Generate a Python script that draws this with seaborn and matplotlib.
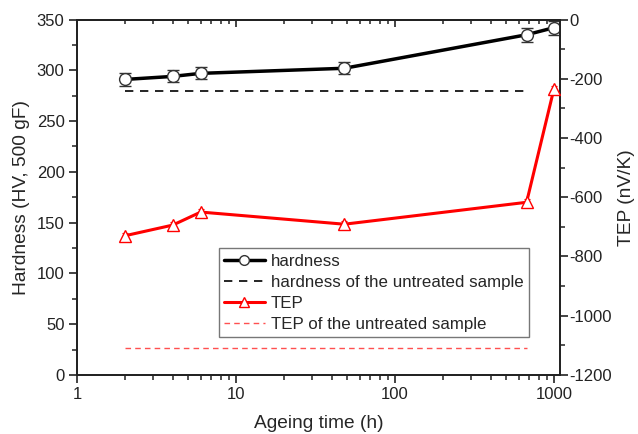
import matplotlib
matplotlib.use("Agg")
import matplotlib.pyplot as plt
import seaborn as sns
import numpy as np
import pandas as pd
from matplotlib.lines import Line2D
from matplotlib.ticker import MultipleLocator, LogLocator, NullFormatter

# ageing time (h)
ageing_time = [2, 4, 6, 48, 672, 1000]
# hardness (HV, 500 gF) and its error
hardness = [291, 294, 297, 302, 335, 342]
hardness_err = [6, 6, 6, 6, 7, 7]
# thermoelectric power (nV/K)
tep = [-730, -694, -650, -691, -617, -233]
tep_err = [10, 10, 10, 10, 10, 10]
# untreated sample reference values
hardness_untreated = 280
tep_untreated = -1110
ref_span = [2, 672]

sns.set_theme(style="white")
plt.rcParams['font.family'] = ['Liberation Sans', 'DejaVu Sans']
plt.rcParams['axes.unicode_minus'] = False

df = pd.DataFrame({"time": ageing_time, "hardness": hardness, "tep": tep})
ref = pd.DataFrame({"time": ref_span,
                    "h": [hardness_untreated] * 2,
                    "t": [tep_untreated] * 2})

fig = plt.figure(figsize=(6.38, 4.34), dpi=100)
ax = fig.add_axes([0.1207, 0.136, 0.757, 0.819])
ax2 = ax.twinx()

# hardness
ax.errorbar(ageing_time, hardness, yerr=hardness_err, fmt='none', ecolor='#333333',
            elinewidth=1, capsize=4, capthick=1, zorder=3)
sns.lineplot(data=df, x="time", y="hardness", ax=ax, color='black', lw=2.5,
             marker='o', markersize=8.5, markerfacecolor='white', markeredgecolor='#333333',
             markeredgewidth=1, zorder=4)
sns.lineplot(data=ref, x="time", y="h", ax=ax, color='black', lw=1.2,
             linestyle=(0, (5, 4)))

# TEP
ax2.errorbar(ageing_time, tep, yerr=tep_err, fmt='none', ecolor='red',
             elinewidth=0.8, capsize=2, capthick=0.8, zorder=3)
sns.lineplot(data=df, x="time", y="tep", ax=ax2, color='red', lw=2.2,
             marker='^', markersize=8, markerfacecolor='white', markeredgecolor='red',
             markeredgewidth=1, zorder=4)
sns.lineplot(data=ref, x="time", y="t", ax=ax2, color='#ff5050', lw=1.0,
             linestyle=(0, (4, 3)))

ax.set_xscale('log')
ax.set_xlim(1, 1090)
ax.set_ylim(0, 350)
ax2.set_ylim(-1200, 0)

ax.yaxis.set_major_locator(MultipleLocator(50))
ax.yaxis.set_minor_locator(MultipleLocator(25))
ax2.yaxis.set_major_locator(MultipleLocator(200))
ax2.yaxis.set_minor_locator(MultipleLocator(100))
ax.xaxis.set_minor_locator(LogLocator(base=10, subs=np.arange(2, 10), numticks=20))
ax.xaxis.set_minor_formatter(NullFormatter())
ax.set_xticks([1, 10, 100, 1000])
ax.set_xticklabels(['1', '10', '100', '1000'])

for a in (ax, ax2):
    for s in a.spines.values():
        s.set_color('#222222')
        s.set_linewidth(1.3)

ax.tick_params(axis='both', which='major', direction='out', length=6, width=1.2,
               labelsize=12, colors='#222222', bottom=True, left=True, top=False, pad=3)
ax.tick_params(axis='both', which='minor', direction='out', length=3.5, width=1.1,
               bottom=True, left=True, top=False, colors='#222222')
ax2.tick_params(axis='y', which='major', direction='out', length=6, width=1.2,
                labelsize=12, colors='#222222', right=True, pad=1)
ax2.tick_params(axis='y', which='minor', direction='out', length=3.5, width=1.1,
                right=True, colors='#222222')

# mirrored top axis with inward ticks
top = ax.secondary_xaxis('top')
top.set_xticks([1, 10, 100, 1000])
top.xaxis.set_minor_locator(LogLocator(base=10, subs=np.arange(2, 10), numticks=20))
top.xaxis.set_minor_formatter(NullFormatter())
top.tick_params(axis='x', which='major', direction='in', length=5, width=1.2,
                labeltop=False, colors='#222222')
top.tick_params(axis='x', which='minor', direction='in', length=3, width=1.1,
                colors='#222222')
top.spines['top'].set_linewidth(1.3)
top.spines['top'].set_color('#222222')

ax.set_xlabel("Ageing time (h)", fontsize=13.8, labelpad=9)
ax.set_ylabel("Hardness (HV, 500 gF)", fontsize=13.8, labelpad=5)
ax2.set_ylabel("TEP (nV/K)", fontsize=13.8, labelpad=4)

handles = [
    Line2D([], [], color='black', lw=2.5, marker='o', markersize=7,
           markerfacecolor='white', markeredgecolor='#333333'),
    Line2D([], [], color='black', lw=1.2, linestyle=(0, (5, 4))),
    Line2D([], [], color='red', lw=2.2, marker='^', markersize=7,
           markerfacecolor='white', markeredgecolor='red'),
    Line2D([], [], color='#ff5050', lw=1.0, linestyle=(0, (4, 3))),
]
labels = ["hardness", "hardness of the untreated sample", "TEP",
          "TEP of the untreated sample"]
leg = ax2.legend(handles, labels, loc='lower left', bbox_to_anchor=(0.294, 0.107),
                 fontsize=12.2, frameon=True, fancybox=False, edgecolor='#555555',
                 handlelength=2.4, handletextpad=0.35, borderpad=0.3, labelspacing=0.36,
                 borderaxespad=0)
leg.get_frame().set_linewidth(1.0)

fig.savefig("out.png", dpi=100)
